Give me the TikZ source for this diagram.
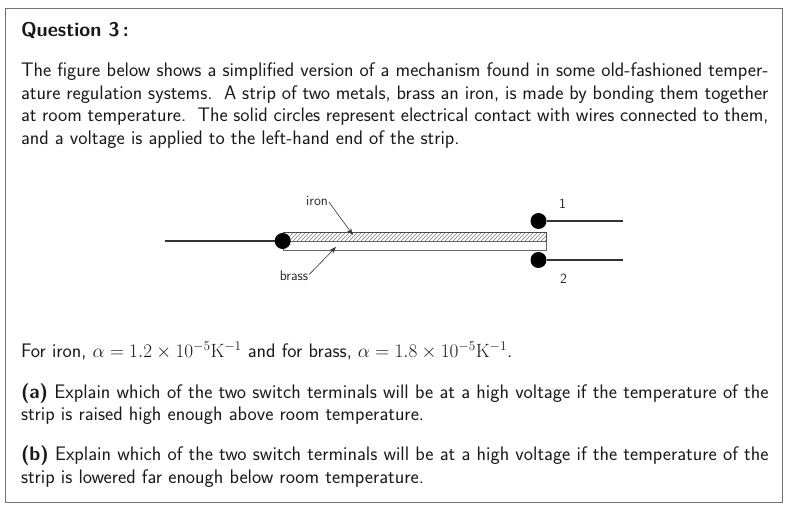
\documentclass[tikz,border=0pt]{standalone}
\usepackage{graphicx}
\usetikzlibrary{arrows.meta}
\newcommand{\fl}[1]{\hbox to 747.5pt{#1}}
\newcommand{\mth}[1]{\scalebox{0.926}{$#1$}}
\tikzset{
  txt/.style={anchor=base west,inner sep=0pt,outer sep=0pt,font=\fontsize{19.6}{23}\sffamily,text=black!90},
  lab/.style={inner sep=0pt,outer sep=0pt,font=\fontsize{14}{16}\sffamily,text=black!85},
  dot/.style={circle,fill=black,draw=none,minimum size=16pt,inner sep=0pt},
  wire/.style={line width=1.8pt,black!80},
  ptr/.style={line width=0.6pt,black!80,-{Stealth[length=7pt,width=5pt]}},
}
\begin{document}
\begin{tikzpicture}[x=1pt,y=-1pt]
\useasboundingbox (0,0) rectangle (800,518);
\draw[line width=0.8pt,black!55] (5,8.5) rectangle (782,502);
\node[txt,font=\fontsize{19.8}{24}\sffamily\bfseries] (title) at (21,37) {Question 3\,:};
\node[txt] (l1) at (21,77) {\fl{The figure below shows a simplified version of a mechanism found in some old-fashioned temper-}};
\node[txt] (l2) at (21,99.5) {\fl{ature regulation systems.\ \ A strip of two metals, brass an iron, is made by bonding them together}};
\node[txt] (l3) at (21,122) {\fl{at room temperature.\ \ The solid circles represent electrical contact with wires connected to them,}};
\node[txt] (l4) at (21,145) {and a voltage is applied to the left-hand end of the strip.};
% strip
\begin{scope}
\clip (283,232.5) rectangle (546,241);
\foreach \i in {0,4,...,280} \draw[line width=0.35pt,black!65] (275+\i,243) -- (288+\i,230);
\end{scope}
\draw[line width=0.7pt,black!70] (283,232.5) rectangle (546,241);
\draw[line width=0.7pt,black!60] (283,241) rectangle (546,250);
\node[dot] (c) at (282.7,241) {};
\node[dot] (t1) at (538.5,221) {};
\node[dot] (t2) at (538.5,260) {};
\coordinate (w0) at (165,241);
\coordinate (w1) at (623,221);
\coordinate (w2) at (623,260);
\coordinate (ironend) at (353,235);
\coordinate (brassend) at (336,247);
\draw[wire] (w0) -- (c);
\draw[wire] (t1) -- (w1);
\draw[wire] (t2) -- (w2);
\node[lab] (iron) at (317,201) {iron};
\node[lab] (brass) at (294,275.5) {brass};
\node[lab] (n1) at (562.5,204) {1};
\node[lab] (n2) at (563.5,279) {2};
\draw[ptr] (iron.east)++(1,1) -- (ironend);
\draw[ptr] (brass.east)++(1,-1) -- (brassend);
% below
\node[txt] (f) at (21,357) {For iron, \mth{\alpha=1.2\times10^{-5}\mathrm{K}^{-1}} and for brass, \mth{\alpha=1.8\times10^{-5}\mathrm{K}^{-1}}.};
\node[txt] (a1) at (21,398) {\fl{\textbf{(a)} Explain which of the two switch terminals will be at a high voltage if the temperature of the}};
\node[txt] (a2) at (21,420.5) {strip is raised high enough above room temperature.};
\node[txt] (b1) at (21,460) {\fl{\textbf{(b)} Explain which of the two switch terminals will be at a high voltage if the temperature of the}};
\node[txt] (b2) at (21,483) {strip is lowered far enough below room temperature.};
\end{tikzpicture}
\end{document}
